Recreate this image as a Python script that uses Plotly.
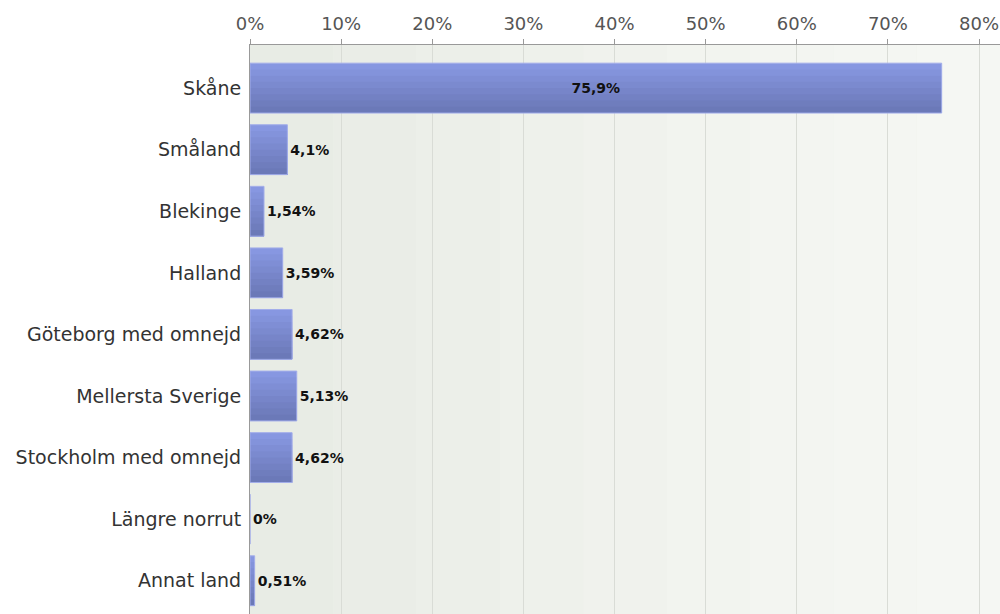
import plotly.graph_objects as go

categories = ["Skåne", "Småland", "Blekinge", "Halland", "Göteborg med omnejd",
              "Mellersta Sverige", "Stockholm med omnejd", "Längre norrut", "Annat land"]
values = [75.9, 4.1, 1.54, 3.59, 4.62, 5.13, 4.62, 0, 0.51]
tick_vals = [0, 10, 20, 30, 40, 50, 60, 70, 80]
tick_text = [f"{t}%" for t in tick_vals]

labels = [(f"{v:g}".replace(".", ",") + "%") for v in values]
positions = ["inside" if v > 50 else "outside" for v in values]

fig = go.Figure()

# background gradient bands (left darker, right lighter)
bg_colors = ["#e8ece5", "#eaede7", "#ecefe9", "#eef1eb", "#f0f2ed", "#f2f4ef", "#f3f5f1", "#f4f6f2", "#f5f7f3"]
n = len(bg_colors)
for i, c in enumerate(bg_colors):
    fig.add_shape(type="rect", xref="paper", yref="paper",
                  x0=i / n, x1=(i + 1) / n, y0=0, y1=1,
                  fillcolor=c, line_width=0, layer="below")

# vertical gradient inside bars: each band runs from its start to the bar bottom,
# later (darker) bands drawn over the earlier ones -> no seams
bar_w = 0.81
grad = ["#8797e1", "#8393db", "#7f8ed5", "#7b8acf", "#7785c9", "#7381c3", "#6f7dbd", "#6b79b8"]
bw = bar_w / len(grad)
for i, c in enumerate(grad):
    fig.add_trace(go.Bar(
        x=values, y=categories, orientation="h",
        width=bar_w - i * bw, offset=-bar_w / 2 + i * bw,
        marker=dict(color=c, line=dict(width=0)),
        hoverinfo="skip",
    ))

# outline + labels
fig.add_trace(go.Bar(
    x=values, y=categories, orientation="h",
    width=bar_w,
    marker=dict(color="rgba(0,0,0,0)", line=dict(color="#a3aeea", width=1)),
    text=labels, textposition=positions, insidetextanchor="middle",
    insidetextfont=dict(family="DejaVu Sans", size=14, color="#111", weight="bold"),
    outsidetextfont=dict(family="DejaVu Sans", size=14, color="#111", weight="bold"),
    textfont=dict(family="DejaVu Sans", size=14, color="#111", weight="bold"),
    constraintext="none",
    cliponaxis=False,
    hoverinfo="skip",
))

fig.update_layout(
    width=1000, height=614,
    margin=dict(l=250, r=0, t=45, b=0),
    paper_bgcolor="white", plot_bgcolor="#eef1ea",
    showlegend=False, barmode="overlay",
    font=dict(family="DejaVu Sans", size=18, color="#333"),
)
fig.update_xaxes(
    side="top", range=[0, 82.3], tickvals=tick_vals, ticktext=tick_text,
    showgrid=True, gridcolor="#d9dcd6", gridwidth=1,
    showline=True, linecolor="#999", linewidth=1,
    ticks="outside", ticklen=5, tickcolor="#999",
    ticklabelstandoff=2,
    tickfont=dict(family="DejaVu Sans", size=18, color="#555"),
    zeroline=False, fixedrange=True,
)
fig.update_yaxes(
    categoryorder="array", categoryarray=categories,
    range=[8.54, -0.7],
    showline=True, linecolor="#999", linewidth=1,
    ticks="", ticklabelstandoff=4,
    tickfont=dict(family="DejaVu Sans", size=19, color="#333"),
    showgrid=False, zeroline=False, fixedrange=True,
)

fig.write_html("out.html", config={"displayModeBar": False, "staticPlot": True},
               post_script="document.body.style.margin='0';document.body.style.overflow='hidden';")
